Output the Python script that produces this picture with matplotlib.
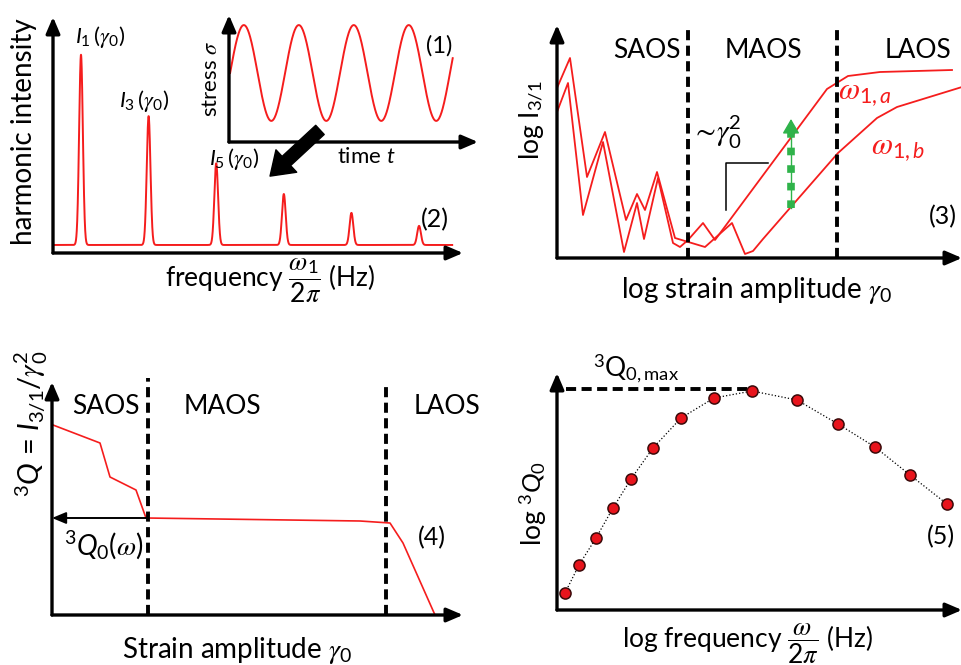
import numpy as np
import matplotlib
matplotlib.use("Agg")
import matplotlib.pyplot as plt
from matplotlib.patches import FancyArrowPatch

plt.rcParams['font.family'] = ['Lato', 'DejaVu Sans']
plt.rcParams['mathtext.fontset'] = 'custom'
plt.rcParams['mathtext.rm'] = 'Lato'
plt.rcParams['mathtext.it'] = 'Lato:italic'
plt.rcParams['mathtext.bf'] = 'Lato:bold'
# greek symbols get a serif math italic
plt.rcParams['mathtext.sf'] = 'STIXGeneral:italic'
plt.rcParams['mathtext.fallback'] = 'stix'

W, H = 962, 665
RED = '#f51d1d'
GREEN = '#2fb34a'
DASH = (0, (2.6, 1.4))
G = r'\mathsf{\gamma}'
OM = r'\mathsf{\omega}'
PI = r'\mathsf{\pi}'

# (2) harmonic spectrum
harmonics = [1, 3, 5, 7, 9, 11]
harmonic_int = [0.84, 0.58, 0.38, 0.25, 0.17, 0.115]
spec_base = 0.034

# (1) stress signal
n_cycles = 4.05

# (3) I3/1 vs log strain amplitude, two excitation frequencies
strain_a = [0.00, 0.11, 0.26, 0.46, 0.67, 0.80, 0.87, 1.01, 1.16, 1.23, 1.31,
            1.46, 1.58, 2.70, 2.91, 3.23, 3.95]
i31_a = [1.46, 1.75, 0.43, 1.16, 0.06, 0.55, 0.19, 0.80, 0.15, 0.11, 0.18,
         0.35, 0.18, 1.69, 1.82, 1.86, 1.88]
strain_b = [0.00, 0.13, 0.30, 0.48, 0.69, 0.80, 0.88, 1.00, 1.18, 1.48, 1.75,
            1.88, 1.96, 2.06, 2.33, 2.81, 3.20, 3.40, 4.05]
i31_b = [1.70, 2.00, 0.81, 1.26, 0.38, 0.64, 0.48, 0.86, 0.20, 0.11, 0.35,
         0.04, 0.07, 0.19, 0.50, 1.05, 1.40, 1.51, 1.71]
regime_3 = [1.31, 2.80]

# (4) 3Q vs strain amplitude
strain_q = [0.01, 0.48, 0.58, 0.84, 0.94, 3.08, 3.38, 3.51, 3.83]
q_vals = [1.90, 1.72, 1.38, 1.25, 0.97, 0.94, 0.92, 0.72, 0.00]
regime_4 = [0.96, 3.34]

# (5) 3Q0 vs log frequency
log_freq = [0.08, 0.22, 0.39, 0.56, 0.74, 0.96, 1.24, 1.57, 1.95, 2.40,
            2.81, 3.18, 3.53, 3.90]
log_q0 = [0.17, 0.45, 0.72, 1.02, 1.31, 1.62, 1.92, 2.12, 2.19, 2.10,
          1.86, 1.63, 1.35, 1.06]


def box(left, top, right, bottom):
    return [left / W, 1 - bottom / H, (right - left) / W, (bottom - top) / H]


def px(x, y):
    return (x / W, 1 - y / H)


def arrow_axes(ax):
    ax.set_axis_off()
    for end in [(1, 0), (0, 1)]:
        ax.annotate('', xy=end, xytext=(0, 0), xycoords='axes fraction',
                    textcoords='axes fraction', annotation_clip=False,
                    arrowprops=dict(arrowstyle='-|>,head_length=0.7,head_width=0.3',
                                    lw=2.4, color='k', shrinkA=0, shrinkB=0,
                                    mutation_scale=14))


def label(x, y, s, size=19, **kw):
    fig.text(*px(x, y), s, fontsize=size, ha='center', va='center', **kw)


fig = plt.figure(figsize=(W / 100, H / 100), dpi=100)

# ---- (2) spectrum
ax2 = fig.add_axes(box(53, 17, 463, 253))
ax2.set_xlim(0.172, 12.30)
ax2.set_ylim(0, 1)
freq = np.linspace(0.23, 11.98, 6000)
spec = np.full_like(freq, spec_base)
for n, h in zip(harmonics, harmonic_int):
    spec += (h - spec_base) * np.exp(-0.5 * ((freq - n) / 0.055) ** 2)
ax2.plot(freq, spec, color=RED, lw=1.4)
arrow_axes(ax2)

label(24, 132, 'harmonic intensity', size=20, rotation=90)
label(270, 281, r'frequency $\dfrac{%s_1}{2%s}$ (Hz)' % (OM, PI), size=19)
for n, (x, y) in zip(harmonics[:3], [(100, 37), (144, 101), (234, 159)]):
    label(x, y, r'$I_%d\,(%s_0)$' % (n, G), size=16)
label(435, 220, '(2)', size=18)

# ---- (1) stress inset
ax1 = fig.add_axes(box(229, 15, 478, 142))
ax1.set_xlim(-0.02, 4.51)
ax1.set_ylim(-1.44, 1.21)
t = np.linspace(0, n_cycles, 600)
ax1.plot(t, np.sin(2 * np.pi * t), color=RED, lw=1.4)
arrow_axes(ax1)
label(211, 79, r'stress $\mathsf{\sigma}$', size=16, rotation=90)
label(366, 157, r'time $t$', size=16)
label(439, 46, '(1)', size=17)

fig.add_artist(FancyArrowPatch(px(322, 128), px(268, 178), transform=fig.transFigure,
                               arrowstyle='simple,head_length=0.8,head_width=1.1,tail_width=0.45',
                               mutation_scale=20, color='k'))

# ---- (3) I3/1 vs strain
ax3 = fig.add_axes(box(557, 25, 962, 258))
ax3.set_xlim(0, 4.05)
ax3.set_ylim(0, 2.33)
ax3.plot(strain_a, i31_a, color=RED, lw=1.3)
ax3.plot(strain_b, i31_b, color=RED, lw=1.3)
for xv in regime_3:
    ax3.plot([xv, xv], [0, 2.31], color='k', lw=2.8, ls=DASH, clip_on=False)
ax3.plot([1.69, 1.69, 2.11], [0.48, 0.95, 0.95], color='k', lw=1.1)
ax3.plot([2.34, 2.34], [0.50, 1.30], color=GREEN, lw=1.0)
ax3.plot([2.34, 2.34], [0.50, 1.30], color=GREEN, lw=5.5, ls=(0, (1, 1.3)))
ax3.annotate('', xy=(2.34, 1.39), xytext=(2.34, 1.26),
             arrowprops=dict(arrowstyle='-|>,head_length=0.6,head_width=0.35',
                             color=GREEN, lw=1, shrinkA=0, shrinkB=0, mutation_scale=15))
arrow_axes(ax3)

label(532, 120, r'log I$_{\mathregular{3/1}}$', size=19, rotation=90)
label(647, 50, 'SAOS')
label(763, 50, 'MAOS')
label(918, 50, 'LAOS')
label(716, 132, r'$\sim\!%s_0^2$' % G, size=21)
label(865, 95, r'$%s_{1,a}$' % OM, size=22, color=RED)
label(898, 150, r'$%s_{1,b}$' % OM, size=22, color=RED)
label(943, 217, '(3)', size=18)
label(757, 290, r'log strain amplitude $%s_0$' % G, size=20)

# ---- (4) 3Q vs strain
ax4 = fig.add_axes(box(52, 382, 463, 615))
ax4.set_xlim(0, 4.11)
ax4.set_ylim(0, 2.33)
ax4.plot(strain_q, q_vals, color=RED, lw=1.2)
ax4.plot([regime_4[0]] * 2, [0, 2.37], color='k', lw=2.8, ls=DASH, clip_on=False)
ax4.plot([regime_4[1]] * 2, [0, 2.32], color='k', lw=2.8, ls=DASH, clip_on=False)
ax4.annotate('', xy=(0, q_vals[4]), xytext=(strain_q[4], q_vals[4]),
             arrowprops=dict(arrowstyle='-|>,head_length=0.6,head_width=0.25',
                             color='k', lw=1.4, shrinkA=0, shrinkB=0, mutation_scale=14))
arrow_axes(ax4)

label(31, 424, r'$^3Q$ = $I_{3/1}/%s_0^2$' % G, size=21, rotation=90)
label(106, 407, 'SAOS')
label(222, 407, 'MAOS')
label(447, 407, 'LAOS')
label(104, 545, r'$^3Q_0(%s)$' % OM, size=20)
label(432, 538, '(4)', size=18)
label(237, 650, r'Strain amplitude $%s_0$' % G, size=20)

# ---- (5) 3Q0 vs frequency
ax5 = fig.add_axes(box(557, 373, 962, 610))
ax5.set_xlim(0, 4.05)
ax5.set_ylim(0, 2.37)
q_peak = max(log_q0)
f_peak = log_freq[log_q0.index(q_peak)]
ax5.plot([0.09, f_peak], [q_peak + 0.02] * 2, color='k', lw=2.8, ls=DASH)
ax5.plot(log_freq, log_q0, color='k', lw=0.9, ls=':')
ax5.plot(log_freq, log_q0, ls='none', marker='o', ms=8, mfc='#e8141c',
         mec='#3a0a0a', mew=1.1, clip_on=False)
arrow_axes(ax5)

label(636, 368, r'$^3$Q$_{\mathregular{0,max}}$', size=19)
label(533, 503, r'log $^3Q_0$', size=19, rotation=90)
label(941, 537, '(5)', size=18)
label(747, 644, r'log frequency $\dfrac{%s}{2%s}$ (Hz)' % (OM, PI), size=19)

fig.savefig('out.png', dpi=100)
